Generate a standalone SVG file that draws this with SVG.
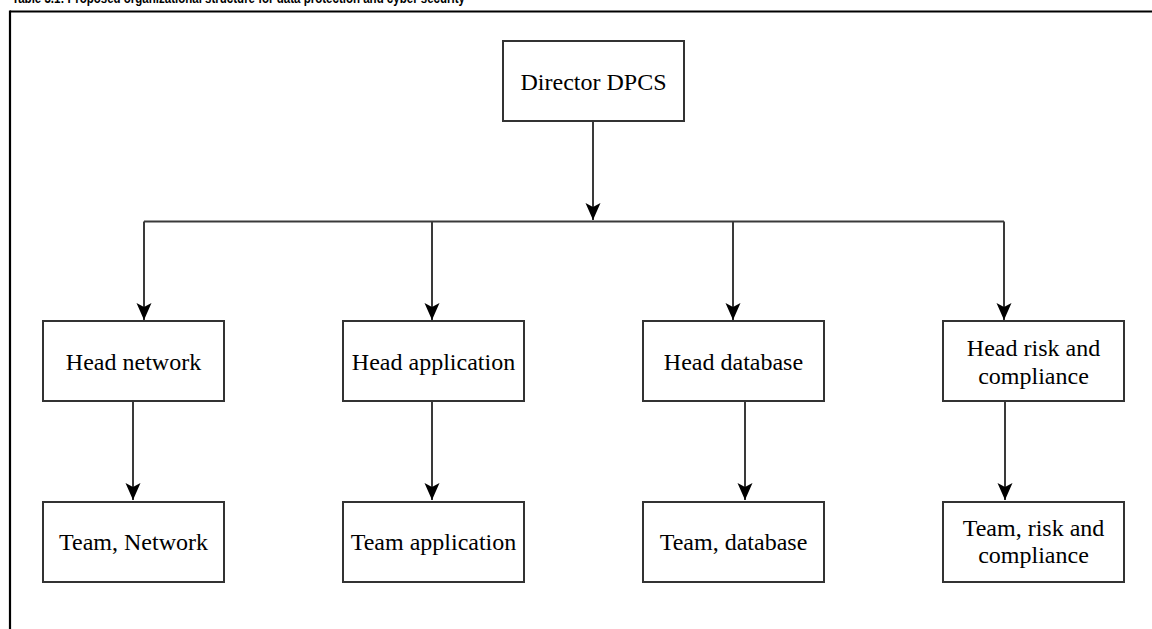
<svg xmlns="http://www.w3.org/2000/svg" width="1152" height="629" viewBox="0 0 1152 629">
  <style>
    .box { fill: #ffffff; stroke: #333333; stroke-width: 2; }
    .lbl { font-family: "Liberation Serif", "Times New Roman", serif; font-size: 24px; fill: #000000; text-anchor: middle; }
    .conn { fill: none; stroke: #3a3a3a; stroke-width: 2; }
    .title { font-family: "Liberation Sans", Arial, sans-serif; font-weight: bold; font-size: 15px; fill: #000000; }
  </style>
  <defs>
    <marker id="arrow" markerUnits="userSpaceOnUse" viewBox="0 -8 18 16" refX="17" refY="0" markerWidth="18" markerHeight="16" orient="auto">
      <path d="M0,-7.5 L17,0 L0,7.5 L4,0 Z" fill="#000000"/>
    </marker>
  </defs>
  <rect x="0" y="0" width="1152" height="629" fill="#ffffff"/>

  <text class="title" x="12" y="2.5" textLength="453" lengthAdjust="spacingAndGlyphs">Table 3.1: Proposed organizational structure for data protection and cyber security</text>

  <g id="frame">
    <line x1="10" y1="11.5" x2="1152" y2="11.5" stroke="#000000" stroke-width="2.2"/>
    <line x1="10" y1="10.5" x2="10" y2="629" stroke="#000000" stroke-width="2.2"/>
  </g>

  <g id="connectors">
    <line class="conn" x1="593" y1="121" x2="593" y2="220" marker-end="url(#arrow)"/>
    <line class="conn" x1="144" y1="221.5" x2="1004" y2="221.5"/>
    <line class="conn" x1="144" y1="221.5" x2="144" y2="320" marker-end="url(#arrow)"/>
    <line class="conn" x1="432" y1="221.5" x2="432" y2="320" marker-end="url(#arrow)"/>
    <line class="conn" x1="733" y1="221.5" x2="733" y2="320" marker-end="url(#arrow)"/>
    <line class="conn" x1="1004" y1="221.5" x2="1004" y2="320" marker-end="url(#arrow)"/>
    <line class="conn" x1="133" y1="401" x2="133" y2="500" marker-end="url(#arrow)"/>
    <line class="conn" x1="432" y1="401" x2="432" y2="500" marker-end="url(#arrow)"/>
    <line class="conn" x1="745" y1="401" x2="745" y2="500" marker-end="url(#arrow)"/>
    <line class="conn" x1="1005" y1="401" x2="1005" y2="500" marker-end="url(#arrow)"/>
  </g>

  <g id="director">
    <rect class="box" x="503" y="41" width="181" height="80"/>
    <text class="lbl" x="593.5" y="89.5">Director DPCS</text>
  </g>

  <g id="head-network">
    <rect class="box" x="43" y="321" width="181" height="80"/>
    <text class="lbl" x="133.5" y="369.5">Head network</text>
  </g>
  <g id="head-application">
    <rect class="box" x="343" y="321" width="181" height="80"/>
    <text class="lbl" x="433.5" y="369.5">Head application</text>
  </g>
  <g id="head-database">
    <rect class="box" x="643" y="321" width="181" height="80"/>
    <text class="lbl" x="733.5" y="369.5">Head database</text>
  </g>
  <g id="head-risk">
    <rect class="box" x="943" y="321" width="181" height="80"/>
    <text class="lbl" x="1033.5" y="356">Head risk and</text>
    <text class="lbl" x="1033.5" y="384">compliance</text>
  </g>

  <g id="team-network">
    <rect class="box" x="43" y="502" width="181" height="80"/>
    <text class="lbl" x="133.5" y="550">Team, Network</text>
  </g>
  <g id="team-application">
    <rect class="box" x="343" y="502" width="181" height="80"/>
    <text class="lbl" x="433.5" y="550">Team application</text>
  </g>
  <g id="team-database">
    <rect class="box" x="643" y="502" width="181" height="80"/>
    <text class="lbl" x="733.5" y="550">Team, database</text>
  </g>
  <g id="team-risk">
    <rect class="box" x="943" y="502" width="181" height="80"/>
    <text class="lbl" x="1033.5" y="536">Team, risk and</text>
    <text class="lbl" x="1033.5" y="563">compliance</text>
  </g>
</svg>
